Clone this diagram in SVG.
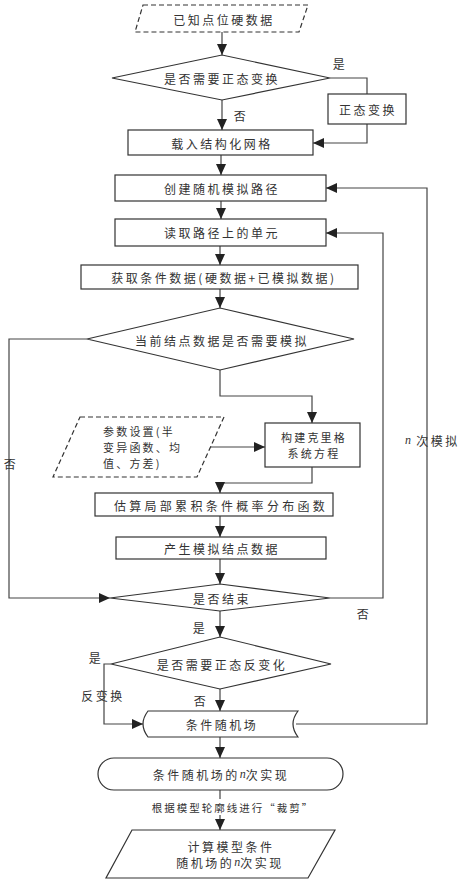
<svg xmlns="http://www.w3.org/2000/svg" width="461" height="884" viewBox="0 0 461 884">
<defs>
<marker id="ah" markerUnits="userSpaceOnUse" markerWidth="12" markerHeight="12" viewBox="0 0 12 12" refX="11" refY="6" orient="auto">
<path d="M0,1 L11,6 L0,11 Z" fill="#222"/>
</marker>
<style>
.n{fill:#fff;stroke:#333;stroke-width:1.2}
.d{fill:#fff;stroke:#333;stroke-width:1.2;stroke-dasharray:5,3}
.c{fill:none;stroke:#444;stroke-width:1.2;marker-end:url(#ah)}
.p{fill:none;stroke:#444;stroke-width:1.2}
text{font-family:"Noto Sans CJK SC","Noto Sans",sans-serif;font-size:12px;fill:#333;letter-spacing:2.5px;dominant-baseline:central}
.m{text-anchor:middle}
.s{font-size:11px;letter-spacing:2.2px}
.i{font-family:"Liberation Serif",serif;font-style:italic;letter-spacing:0}
</style>
</defs>
<rect width="461" height="884" fill="#fff"/>

<g id="connectors">
<path class="c" d="M222,32 V55"/>
<path class="p" d="M330,78 H367 V94"/>
<path class="c" d="M222,100 V130"/>
<path class="c" d="M367,124 V143 H313"/>
<path class="c" d="M221,155 V175"/>
<path class="c" d="M221,201 V219"/>
<path class="c" d="M220,246 V265"/>
<path class="c" d="M220,289 V308"/>
<path class="c" d="M87,339 H9 V598 H110"/>
<path class="c" d="M220,370 V396 H312 V423"/>
<path class="c" d="M208,447 H265"/>
<path class="c" d="M312,467 V483 H220 V493"/>
<path class="c" d="M220,516 V537"/>
<path class="c" d="M220,559 V584"/>
<path class="c" d="M330,598 H383 V233 H326"/>
<path class="c" d="M220,611 V637"/>
<path class="c" d="M111,664 H104 V724 H143"/>
<path class="c" d="M220,689 V711"/>
<path class="c" d="M296,724 H427 V188 H326"/>
<path class="c" d="M220,737 V758"/>
<path class="c" d="M220,790 V830"/>
<rect x="153" y="799" width="160" height="16" fill="#fff"/>
<text x="233" y="807" class="m" style="font-size:10.5px;letter-spacing:2px">根据模型轮廓线进行“裁剪”</text>
<text x="340" y="63" class="m">是</text>
<text x="241" y="115" class="m">否</text>
<text x="11" y="463" class="m">否</text>
<text x="405" y="440"><tspan class="i">n</tspan> 次模拟</text>
<text x="364" y="613" class="m">否</text>
<text x="200" y="627" class="m">是</text>
<text x="96" y="657" class="m">是</text>
<text x="103" y="695" class="m">反变换</text>
<text x="201" y="700" class="m">否</text>
</g>

<g id="n1"><polygon class="d" points="143,5 308,5 299,32 135,32"/><text x="224" y="19" class="m">已知点位硬数据</text></g>
<g id="n2"><polygon class="n" points="112,78 222,55 330,78 222,100"/><text x="222" y="78" class="m">是否需要正态变换</text></g>
<g id="n3"><rect class="n" x="328" y="94" width="78" height="30"/><text x="368" y="109" class="m">正态变换</text></g>
<g id="n4"><rect class="n" x="128" y="130" width="185" height="25"/><text x="222" y="143" class="m">载入结构化网格</text></g>
<g id="n5"><rect class="n" x="115" y="175" width="211" height="26"/><text x="222" y="188" class="m">创建随机模拟路径</text></g>
<g id="n6"><rect class="n" x="115" y="219" width="211" height="27"/><text x="222" y="232" class="m">读取路径上的单元</text></g>
<g id="n7"><rect class="n" x="81" y="265" width="277" height="24"/><text x="224" y="277" class="m">获取条件数据(硬数据+已模拟数据)</text></g>
<g id="n8"><polygon class="n" points="87,339 220,308 354,339 220,370"/><text x="222" y="340" class="m">当前结点数据是否需要模拟</text></g>
<g id="n9"><polygon class="d" points="80,417 224,417 197,477 53,477"/>
<text x="103" y="431" class="s">参数设置(半</text><text x="103" y="447" class="s">变异函数、均</text><text x="103" y="463" class="s">值、方差)</text></g>
<g id="n10"><rect class="n" x="265" y="423" width="95" height="44"/><text x="314" y="437" class="m s">构建克里格</text><text x="314" y="453" class="m s">系统方程</text></g>
<g id="n11"><rect class="n" x="95" y="493" width="238" height="23"/><text x="221" y="505" class="m" style="letter-spacing:3.3px">估算局部累积条件概率分布函数</text></g>
<g id="n12"><rect class="n" x="116" y="537" width="210" height="22"/><text x="222" y="548" class="m">产生模拟结点数据</text></g>
<g id="n13"><polygon class="n" points="110,598 220,584 330,598 220,611"/><text x="222" y="598" class="m">是否结束</text></g>
<g id="n14"><polygon class="n" points="111,664 220,637 331,664 220,689"/><text x="222" y="664" class="m">是否需要正态反变化</text></g>
<g id="n15"><path class="n" d="M148,711 H298 Q288,724 298,737 H148 Q138,724 148,711 Z"/><text x="222" y="724" class="m">条件随机场</text></g>
<g id="n16"><rect class="n" x="98" y="758" width="245" height="32" rx="16"/><text x="221" y="774" class="m">条件随机场的<tspan class="i">n</tspan>次实现</text></g>
<g id="n17"><polygon class="n" points="132,830 335,830 308,878 106,878"/><text x="231" y="846" class="m">计算模型条件</text><text x="230" y="862" class="m">随机场的<tspan class="i">n</tspan>次实现</text></g>
</svg>
